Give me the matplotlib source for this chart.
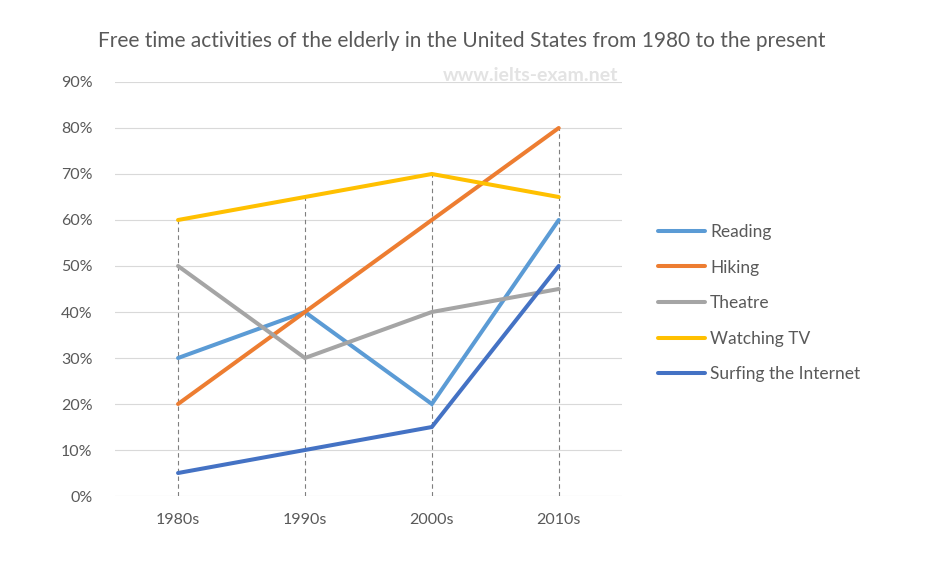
import matplotlib.pyplot as plt
import numpy as np
from matplotlib.ticker import PercentFormatter

# data (percent)
decades = ['1980s', '1990s', '2000s', '2010s']
reading = [30, 40, 20, 60]
hiking = [20, 40, 60, 80]
theatre = [50, 30, 40, 45]
watching_tv = [60, 65, 70, 65]
surfing = [5, 10, 15, 50]

series = [
    ('Reading', reading, '#5B9BD5'),
    ('Hiking', hiking, '#ED7D31'),
    ('Theatre', theatre, '#A5A5A5'),
    ('Watching TV', watching_tv, '#FFC000'),
    ('Surfing the Internet', surfing, '#4472C4'),
]

plt.rcParams['font.family'] = ['Lato', 'DejaVu Sans']
text_col = '#595959'

fig = plt.figure(figsize=(9.47, 5.67), dpi=100)
ax = fig.add_axes([0.121, 0.1252, 0.536, 0.7302])

x = np.arange(len(decades))

# drop lines from the highest point down to the axis
tops = np.max([s[1] for s in series], axis=0)
ax.vlines(x, 0, tops, colors='#7f7f7f', linestyles=(0, (4, 3)), linewidth=0.8, zorder=2)

for name, vals, col in series:
    ax.plot(x, vals, color=col, linewidth=2.9, label=name, zorder=3,
            solid_capstyle='round', solid_joinstyle='miter')

ax.set_xlim(-0.5, len(decades) - 0.5)
ax.set_ylim(0, 90)
ax.set_yticks(range(0, 91, 10))
ax.yaxis.set_major_formatter(PercentFormatter(decimals=0))
ax.set_xticks(x)
ax.set_xticklabels(decades)
ax.grid(axis='y', color='#d9d9d9', linewidth=0.8, zorder=0)
ax.set_axisbelow(True)
for sp in ax.spines.values():
    sp.set_visible(False)
ax.tick_params(length=0, labelsize=11.5, colors=text_col)
ax.tick_params(axis='y', pad=16)
ax.tick_params(axis='x', pad=12)

fig.text(0.488, 0.927, 'Free time activities of the elderly in the United States from 1980 to the present',
         ha='center', va='center', fontsize=15, color=text_col)

# faint watermark
fig.text(0.560, 0.866, 'www.ielts-exam.net', ha='center', va='center',
         fontsize=14, fontweight='bold', color='#e3e3e3')

leg = ax.legend(loc='upper left', bbox_to_anchor=(1.04, 0.695), frameon=False,
                fontsize=12.5, labelspacing=1.13, handlelength=2.7, handletextpad=0.3)
for t in leg.get_texts():
    t.set_color(text_col)

fig.savefig('out.png', dpi=100, facecolor='white')
